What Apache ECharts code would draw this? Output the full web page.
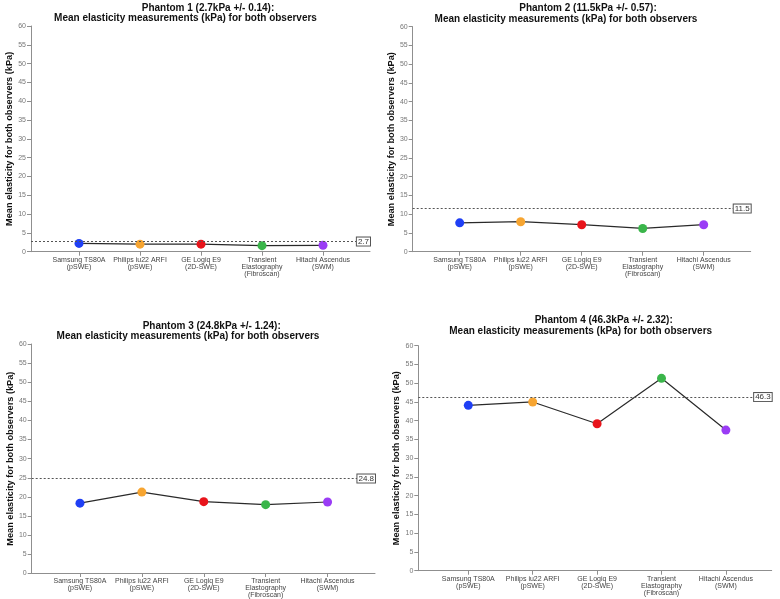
<!DOCTYPE html>
<html>
<head>
<meta charset="utf-8">
<script src="https://cdn.jsdelivr.net/npm/echarts@6/dist/echarts.min.js"></script>
<style>
html,body{margin:0;padding:0;background:#fff;}
#chart{width:780px;height:599px;}
</style>
</head>
<body>
<div id="chart"></div>
<script>
// ---- data ----
const categories = [
  'Samsung TS80A\n(pSWE)',
  'Philips iu22 ARFI\n(pSWE)',
  'GE Logiq E9\n(2D-SWE)',
  'Transient\nElastography\n(Fibroscan)',
  'Hitachi Ascendus\n(SWM)'
];
const phantom1 = [2.2, 2.0, 2.0, 1.6, 1.7];
const phantom2 = [7.7, 8.0, 7.2, 6.2, 7.2];
const phantom3 = [18.3, 21.2, 18.7, 17.9, 18.6];
const phantom4 = [44.1, 45.0, 39.2, 51.3, 37.5];
const referenceValues = [2.7, 11.5, 24.8, 46.3];
const referenceSD = [0.14, 0.57, 1.24, 2.32];
const phantomNames = ['Phantom 1', 'Phantom 2', 'Phantom 3', 'Phantom 4'];
const yMin = 0, yMax = 60, yInterval = 5;
const yAxisName = 'Mean elasticity for both observers (kPa)';
const subtitle = 'Mean elasticity measurements (kPa) for both observers';

// ---- styles / layout ----
const pointColors = ['#1f3ff5', '#f7a531', '#e8141b', '#3ab54a', '#9a3cf5'];
const FONT = 'Liberation Sans, Arial, sans-serif';
const panels = [
  {wide:{left:31, right:410, top:26, bottom:347.3}, narrow:{left:48.5, width:305}, t1:[208, 8.3], t2:[185.5, 18]},
  {wide:{left:412.7, right:29.3, top:26.7, bottom:347.3}, narrow:{left:429.2, width:305}, t1:[588, 8.3], t2:[566, 19]},
  {wide:{left:31.7, right:405, top:344, bottom:25.7}, narrow:{left:49, width:309.5}, t1:[211.7, 326], t2:[188, 336]},
  {wide:{left:418.3, right:8.3, top:345.7, bottom:28.3}, narrow:{left:436.1, width:322}, t1:[603.7, 320.3], t2:[580.7, 331]}
];
const phantomValues = [phantom1, phantom2, phantom3, phantom4];

const grid = [], xAxis = [], yAxis = [], series = [], graphic = [];
panels.forEach((p, k) => {
  const gw = grid.length;
  grid.push(Object.assign({containLabel:false}, p.wide));
  const gn = grid.length;
  grid.push({left:p.narrow.left, width:p.narrow.width, top:p.wide.top, bottom:p.wide.bottom, containLabel:false});

  xAxis.push({type:'value', gridIndex:gw, min:0, max:1, show:true,
    axisLine:{show:true, lineStyle:{color:'#8f8f8f', width:1}},
    axisTick:{show:false}, axisLabel:{show:false}, splitLine:{show:false}});
  yAxis.push({type:'value', gridIndex:gw, min:yMin, max:yMax, interval:yInterval,
    name:yAxisName, nameLocation:'middle', nameGap:17,
    nameTextStyle:{fontFamily:FONT, fontSize:9.2, fontWeight:'bold', color:'#111'},
    axisLine:{show:true, lineStyle:{color:'#8f8f8f', width:1}},
    axisTick:{show:true, length:4, lineStyle:{color:'#8f8f8f'}},
    axisLabel:{fontFamily:FONT, fontSize:7, color:'#777', margin:5},
    splitLine:{show:false}});
  xAxis.push({type:'category', gridIndex:gn, data:categories, boundaryGap:true,
    axisLine:{show:false},
    axisTick:{show:true, alignWithLabel:true, length:4, lineStyle:{color:'#8f8f8f'}},
    axisLabel:{interval:0, fontFamily:FONT, fontSize:7, lineHeight:7, color:'#444', margin:5}});
  yAxis.push({type:'value', gridIndex:gn, min:yMin, max:yMax, interval:yInterval, show:false});

  const xi = xAxis.length - 1, yi = yAxis.length - 1;
  series.push({type:'line', xAxisIndex:xi-1, yAxisIndex:yi-1, data:[], z:1, silent:true,
    markLine:{silent:true, symbol:['none','none'], animation:false,
      lineStyle:{type:[2,2], color:'#555', width:1},
      label:{show:true, position:'end', distance:0, align:'right', formatter:'{c}',
        fontFamily:FONT, fontSize:8, color:'#333', backgroundColor:'#fff',
        borderColor:'#555', borderWidth:1, padding:[0,1,0,1], lineHeight:8},
      data:[{yAxis:referenceValues[k]}]}});
  series.push({type:'line', xAxisIndex:xi, yAxisIndex:yi, z:3,
    symbol:'circle', symbolSize:9,
    lineStyle:{color:'#2a2a2a', width:1.2},
    data:phantomValues[k].map((v,i)=>({value:v, itemStyle:{color:pointColors[i]}}))});

  graphic.push({type:'text', x:p.t1[0], y:p.t1[1], silent:true,
    style:{text:phantomNames[k] + ' (' + referenceValues[k] + 'kPa +/- ' + referenceSD[k].toFixed(2) + '):',
      fontFamily:FONT, fontSize:10, fontWeight:'bold', fill:'#111', align:'center', verticalAlign:'middle'}});
  graphic.push({type:'text', x:p.t2[0], y:p.t2[1], silent:true,
    style:{text:subtitle, fontFamily:FONT, fontSize:10, fontWeight:'bold', fill:'#111', align:'center', verticalAlign:'middle'}});
});

const chart = echarts.init(document.getElementById('chart'), null, {renderer:'canvas'});
chart.setOption({animation:false, backgroundColor:'#fff', grid, xAxis, yAxis, series, graphic});
</script>
</body>
</html>
